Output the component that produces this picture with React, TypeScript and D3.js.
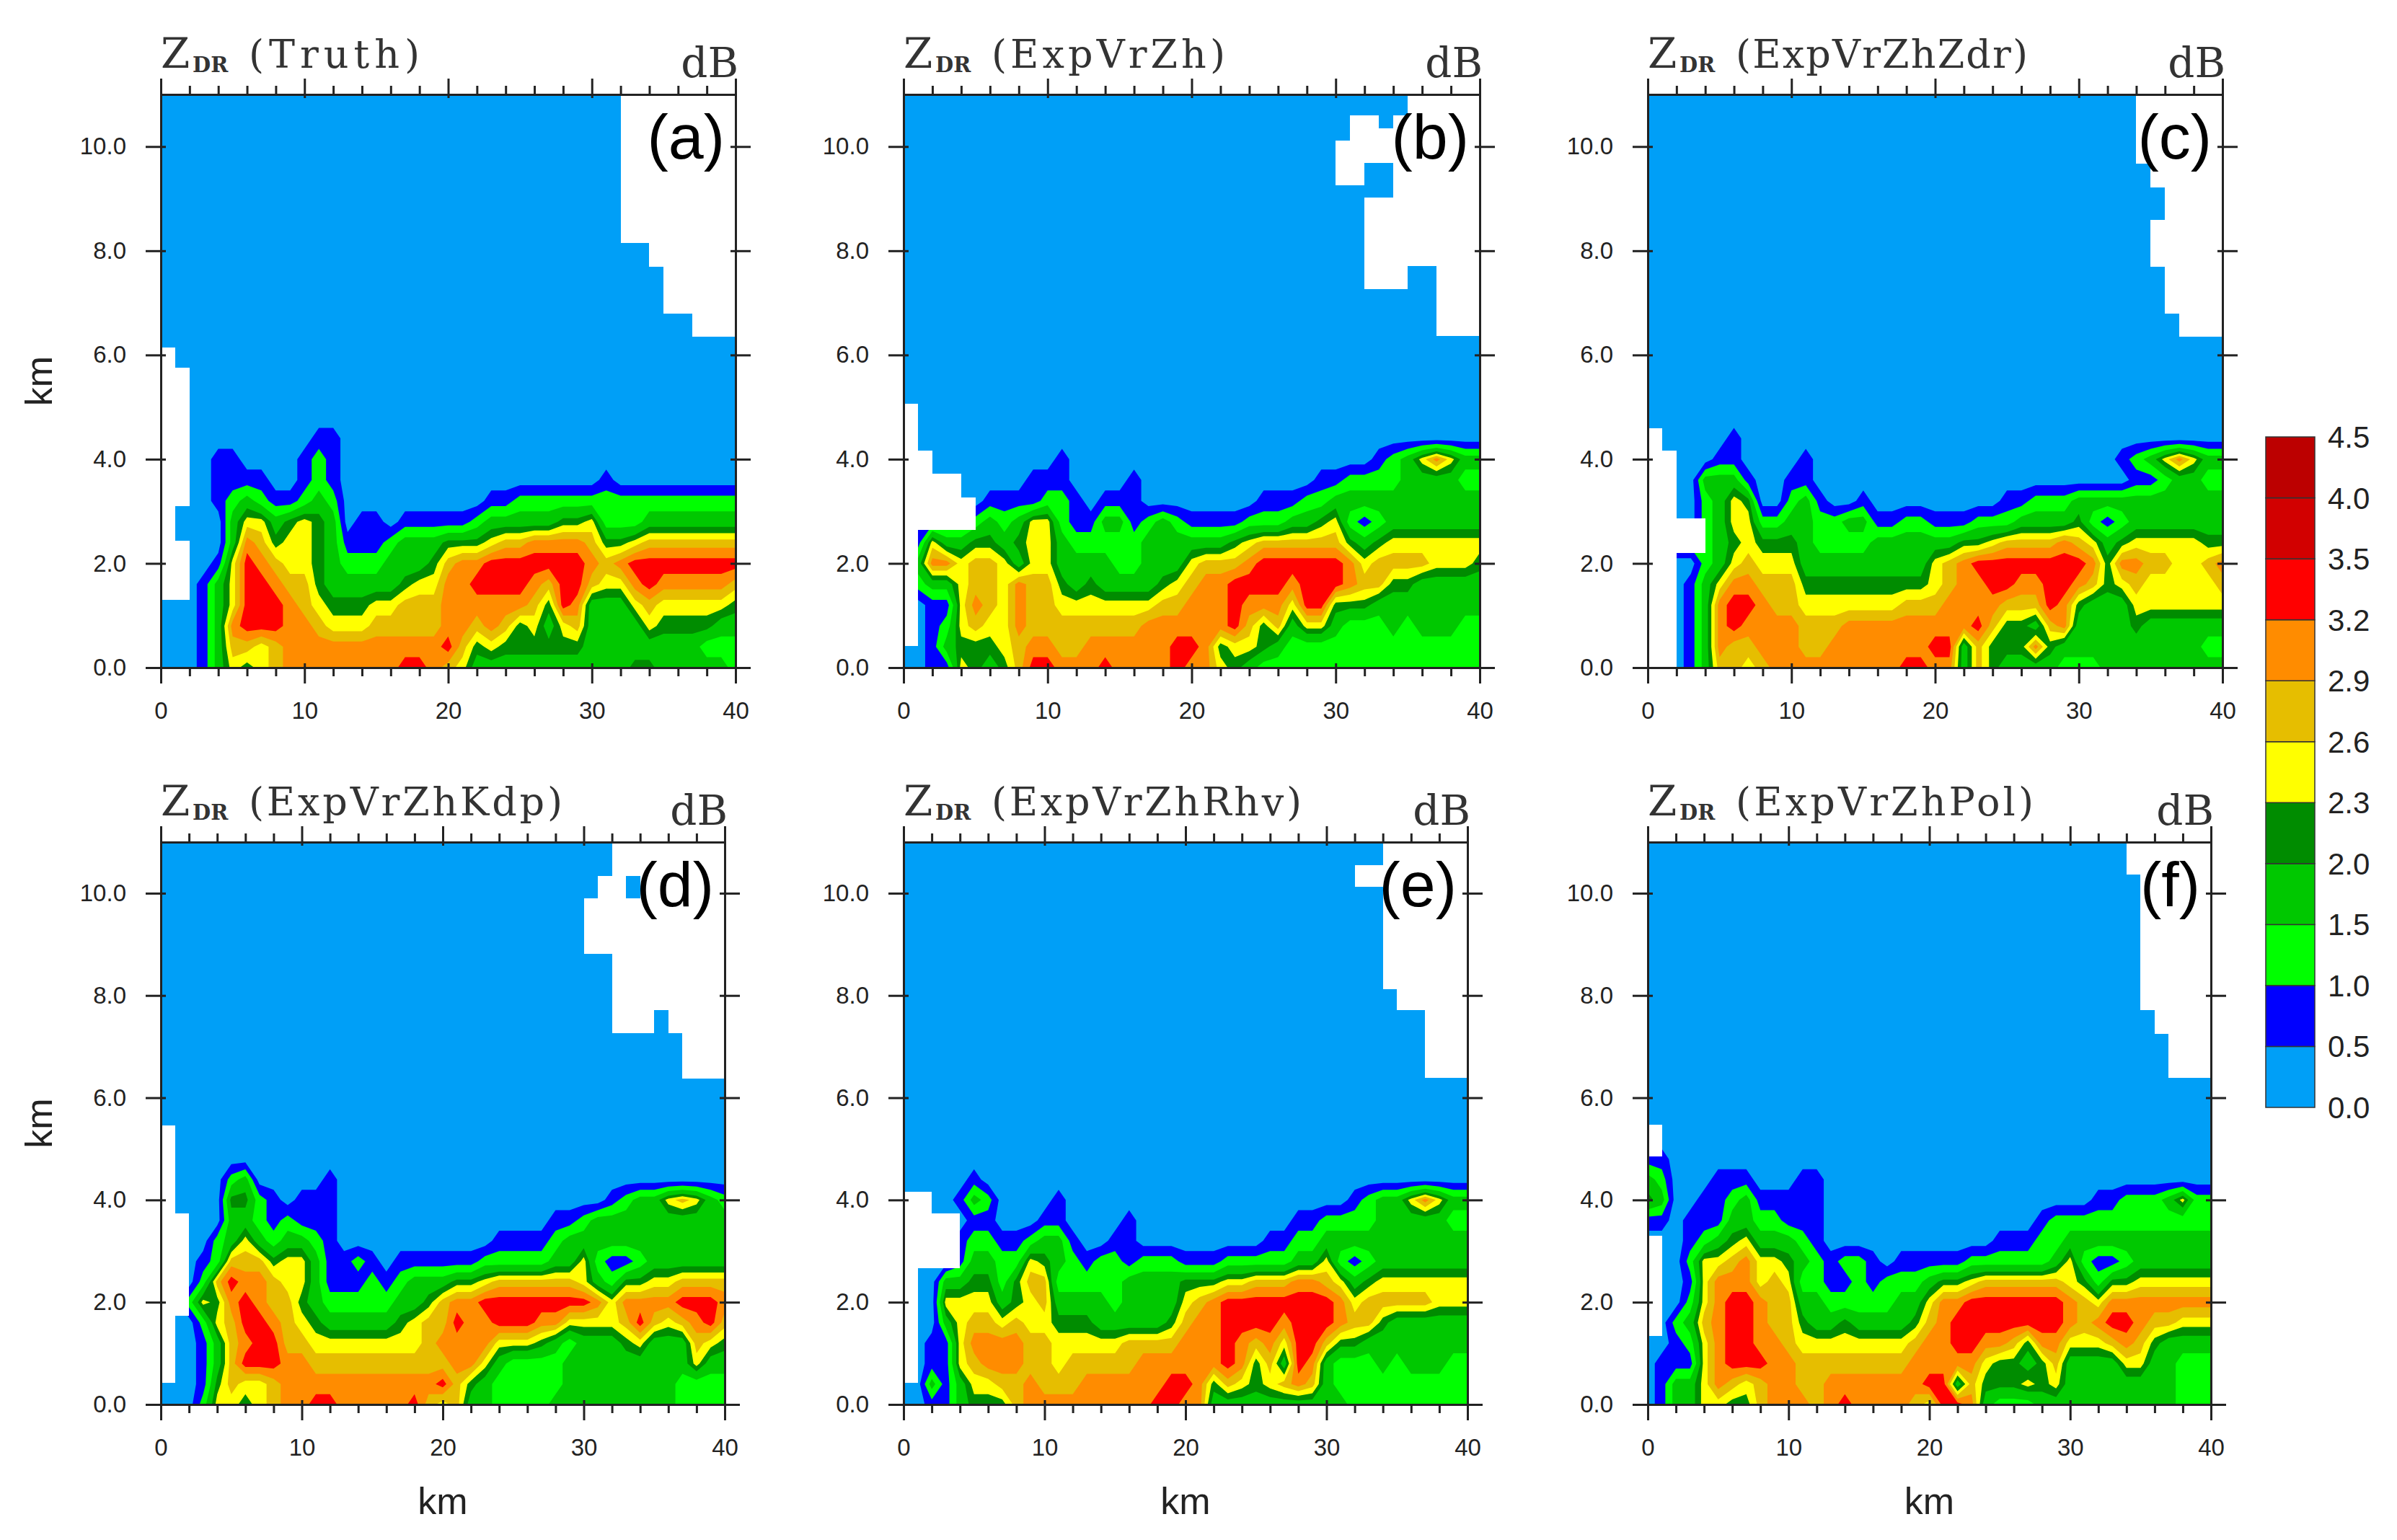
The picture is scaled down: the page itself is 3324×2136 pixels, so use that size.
import { useEffect, useRef } from "react";
import * as d3 from "d3";

// colour bands of the legend, bottom to top
const LEVELS = [0, 0.5, 1, 1.5, 2, 2.3, 2.6, 2.9, 3.2, 3.5, 4, 4.5];
const LEVEL_LABELS = ["0.0", "0.5", "1.0", "1.5", "2.0", "2.3", "2.6", "2.9", "3.2", "3.5", "4.0", "4.5"];
const COLORS = ["#009ff7", "#0000ff", "#00ff00", "#00c800", "#008c00", "#ffff00", "#e6be00", "#ff8c00", "#ff0000", "#d20000", "#bc0000"];

const X_MAJOR = [0, 10, 20, 30, 40];
const X_MINOR = [2, 4, 6, 8, 12, 14, 16, 18, 22, 24, 26, 28, 32, 34, 36, 38];
const Y_TICKS = [0, 2, 4, 6, 8, 10];

// ZDR: one string per height (0, 0.4, 0.8 ... km), one digit per km (0-40).
// A digit is the legend band the cell falls in; short rows end in band 0.
const ROWS_A = [
  "000 1 3 5 4 5 6 77777777 88 7 6 5 3 3333333333 44 33333 2",
  "000 1 3 6 6 5 6 77777777777 8 6 4 5 444444 33333333 222",
  "000 1 3 7 888 7 7 6 555 6 6666 7 7 6 7 6 4 5 3 5 6 3333 5 4 44 4 33",
  "000 1 3 5 888 7 6 5 444 55 666 777 777 6 4 8 7 333 5 6 5555 5 4",
  "000 1 3 5 88 7 6 6 4 33333 4 5 5 7 7 8888 7 6 88 6 55 7 8 77777 6",
  "0000 1 5 8 7 6 55 4 3 222 333 4 6 77 8888888 7 6 7 88888888",
  "00000 3 7 6 4 55 4 3 111 2 333 444 5 66 7777 6 44 5 6 666666",
  "00000 3 55 3 4 5 4 3 0 11 0 11111 2 33333 44 5 222 3333333",
  "0000 1 2 3 2 11 2 3 2 0000000000 11 2222222222222222",
  "0000 1111 00 1 2 1 000000000000000000 1",
  "0000 11 0000 1 2 1",
  "00000000000 11",
];
const ROWS_B = [
  "00 11 5 4 3 4 6 88 777 8 7777 8 77 5 4 3 2222222222222222",
  "00 1 3 4 4 4 5 6 7 7 6 6 7 77777 8 8 7 4 5 5 4 3 22222222222222",
  "0 0 1 2 5 6 55 7 66666666 77777 7 8 6 4 6 3 55 3 222 3 2 333 22",
  "00 11 5 7 6 5 7 66 5555555 66 777 8 777 5 88 444 33333333",
  "22 3 3 5 66 5 7 66 4 3 4 3333 4 5 6 77 8888 7 888 7 66 44 33333",
  "2 3 77 5 66 5 3 55 3333 22 333 5 666 7 888888 7 5 6666 555 4",
  "11 5 3 3 44 3 4 55 3 22222 333333 4 5 666666 4 3 4 5555555",
  "11111 2 3 2 3 55 2 11 33 1 2 3 2 1111 222 33 4 5 2 1 2 3333333",
  "000000 1111 22 1 0 111 00000000 111 22 33333333333",
  "000000000 111 0000 1 000000000000 11 2222 3333 22",
  "00000000000 1 000000000000000000000 1 2 3 5 7 5 3 3",
];
const ROWS_C = [
  "000 1 3 66 5 6 777777777 88 77 3 6 4 3333 222 333333333",
  "000 1 3 7 66 7 77 66 7 77777 7 88 3 6 444 7 4 3333333333 22",
  "000 1 3 7 8 7 777 666 777777777 8 6 44 3 6 7 3333 4 333333",
  "000 1 3 7 88 7 6 6 5555555 666 7777 666 8 7 4 333 5555555",
  "000 1 3 5 7 7 666 444444444 5 6 77 88 77 88 7 6 4 5 6 55555 6",
  "0000 2 3 5 6 555 333333333 5 6 7 88888888 7 4 77 66 55 6 7",
  "2222 2 3 4 5 444 3 2222 3 3 3333 44 5 6666 7 6 5 3 4 55555 44",
  "0000 2 3 55 2 2 33 22 33 11 22 111 222 3333 4 2 1 2 3333333",
  "0000 2 3 5 4 00 2 3 1 00 1 000000000 11 222 33333333333",
  "0000 333 1 00 11 0000000000000000000000 1 1 2 33 22",
  "00000 11 0000 1 000000000000000000000 1 2 3 5 7 5 33",
  "000000 1",
];
const ROWS_D = [
  "000 2 5 5 4 5 6 7 7 88 77777 8 6 5 6 33 2222 3 33333333 2222",
  "000 1 4 6 5 5 6 7777777777 7 8 6 4 3 2 2222 33333333 2222",
  "000 1 3 6 888 7 7 6 66666666 6 7 7 5 3 22 22 3 33333333 5 33",
  "000 1 3 6 7 88 6 6 5 555555 5 6 7 777 555 4 3 2 333 4 5 333 6 5 4",
  "000 2 5 6 88 7 6 5 4 33333 4 5 66 8 77 888 77 5555 6 8 6 5 6 7 8 6",
  "00 2 5 4 7 8 7 66 4 3 22222 33 4 6 77 88888888 7 5 7777 888 7",
  "000 2 6 8 7 7 6 55 3 111 2 1 2 333 44 5 666666 5 3 2 4 4 55 6666",
  "000 1 2 6 6 6 4 55 3 1 1 2 1 0 111111 22222 33 5 2 11 2 333333",
  "0000 2 3 5 3 2 33 2 1 00000000000 1111 2 333333333333",
  "00000 3 3 2 1 2 111 000000000000000 11 2 3333333333",
  "00000 4 4 2 1 0 111 0000000000000000000 1 2 3 3 5 6 5 3 2",
  "00000 2 3 00000 1",
];
const ROWS_E = [
  "00 11 3 444 6 777777777 88 77 3 33333333 3 222222222",
  "00 3 1 3 55 66 7 666 777777 88 7 4 6 5 4 5 6 7 6 3 2222222222",
  "00 11 5 6 777 66 5 6 6666 777777 8 7 4 6 3 8 7 3 222 3 2 333 22",
  "00 1 1 5 7777 66 55555 6666 777 8 7 6 7 5 88 6 44 33333333",
  "000 3 5 66 5 6 55 444 3333 3 4 6 77 8888 7 888 7 66 4 333333",
  "000 5555 3 4 5 6 3333 2 3333 5 6 7 88888888 7 5 6666 6 5 55 4",
  "000 3 3 44 2 4 66 2 222 2 3 333 444 5 5 666 77 6 5 3 4 5555555",
  "0000 1 3 3 2 2 5 4 3 2 1 2 2 1 2 2 2 111 2222 2 33 5 2 1 2 3333333",
  "0000 1 2 2 1 1 2 3 3 1 00 1 1 000000000 11 22 33333333333",
  "00000 11 000 11 0000 1 00000000000 11 2222 33333 22",
  "0000 1 3 2 0000 1 00000000000000000000 1 2 33 5 7 5 33",
  "00000 1",
];
const ROWS_F = [
  "0 1 33 55 44 6 777 6 7 8 777 7 6 5 8 8 7 3 222 3 333333333 222",
  "0 1 33 5 7 6 5 6 77 66 7 777777 88 3 6 4 44 5 4 5 3 3333333 222",
  "0 111 5 7 888 77 6 6666666 7 777 7 5 44 3 4 6 3 333 55 33 222",
  "00 1 2 5 7 88 77 6 5 555555 5 6 77 88 77 6 4 77 555 6 7 6 4 3333",
  "00 2 3 6 7 88 7 66 4 33 4 333 3 4 6 7 88888888 7 6 7 88 7 66 555",
  "000 2 5 7 88 7 66 3 3 2222 2 3 3 5 7 7 8888888 7 6 5 7 7777777",
  "000 1 5 77 7 5 6 5 22 11 2 1 2 22 3 4 4 5 666666 5 4 2 4 4 5 55555",
  "000 2 5 5 6 7 5 5 4 3 2 1 22 1 0 11111 222222 3 5 2 11 2 333333",
  "000 1 2 3 4 5 333 2 1 000000000000 111 22 33333333333",
  "11 0 111 3 3 22 111 000000000000000 1 222222222222",
  "4 3 00 11 2 3 1 1 111 0000000000000000000 11 222 3 5 22",
  "3 2 000 111 000 11",
  "11",
];

// cells with no data, [x0, x1, y0, y1] in km
const MISSING_A = [[32, 34, 8.15, 11], [34, 35, 7.7, 11], [35, 37, 6.8, 11], [37, 40, 6.35, 11], [0, 1, 1.3, 6.15], [1, 2, 3.1, 5.75], [1, 2, 1.3, 2.43]];
const MISSING_B = [[35, 37, 7.71, 11], [37, 40, 6.37, 11], [34, 35, 7.27, 10.6], [32, 34, 7.27, 9.02], [31, 33, 10.12, 10.6], [33, 34, 10.12, 10.35], [30, 32, 9.25, 10.12], [32, 34, 9.69, 10.12], [0, 1, 0.41, 5.06], [1, 2, 2.64, 4.16], [2, 4, 2.64, 3.72], [4, 5, 2.64, 3.26]];
const MISSING_C = [[34, 40, 9.67, 11], [35, 40, 9.22, 9.67], [36, 40, 8.59, 9.22], [35, 40, 7.7, 8.59], [36, 40, 6.8, 7.7], [37, 40, 6.35, 6.8], [0, 1, 4.16, 4.6], [0, 2, 0, 4.16], [2, 4, 2.2, 2.87]];
const MISSING_D = [[32, 33, 7.26, 11], [33, 34, 10.34, 11], [33, 34, 7.26, 9.9], [34, 35, 7.26, 11], [35, 36, 7.72, 11], [36, 37, 7.26, 11], [37, 40, 6.38, 11], [31, 32, 8.81, 10.34], [30, 31, 8.81, 9.9], [0, 1, 0.42, 5.46], [1, 2, 1.74, 3.74]];
const MISSING_E = [[34, 40, 8.12, 11], [35, 40, 7.71, 8.12], [37, 40, 6.39, 7.71], [32, 34, 10.13, 10.55], [0, 2, 3.74, 4.16], [0, 4, 2.66, 3.74], [0, 1, 0.42, 2.66]];
const MISSING_F = [[34, 40, 10.36, 11], [35, 40, 7.71, 10.36], [36, 40, 7.25, 7.71], [37, 40, 6.39, 7.25], [0, 1, 4.85, 5.47], [0, 1, 1.34, 3.3]];

const NX = 41;
const NY = 15;
const DX = 1;
const DY = 0.4;

function bandValue(code: number) {
  return (LEVELS[code] + LEVELS[code + 1]) / 2;
}

function toGrid(rows: string[]) {
  const values = new Array(NX * NY).fill(bandValue(0));
  rows.forEach((row, r) => {
    const cells = row.replace(/ /g, "").padEnd(NX, "0");
    for (let i = 0; i < NX; i++) values[r * NX + i] = bandValue(+cells[i]);
  });
  return values;
}

type PanelProps = {
  id: string;
  name: string;
  nameWidth: number;
  letter: string;
  rows: string[];
  missing: number[][];
  left: number;
  right: number;
  top: number;
  bottom: number;
  showXLabel: boolean;
  showYLabel: boolean;
};

function Panel({ id, name, nameWidth, letter, rows, missing, left, right, top, bottom, showXLabel, showYLabel }: PanelProps) {
  const axesRef = useRef<SVGGElement>(null);

  const x = d3.scaleLinear().domain([0, 40]).range([left, right]);
  const y = d3.scaleLinear().domain([0, 11]).range([bottom, top]);

  const contours = d3
    .contours()
    .size([NX, NY])
    .thresholds(LEVELS.slice(1, 10))(toGrid(rows));

  const path = d3.geoPath(
    d3.geoTransform({
      point(px: number, py: number) {
        (this as any).stream.point(x((px - 0.5) * DX), y((py - 0.5) * DY));
      },
    })
  );

  useEffect(() => {
    const g = d3.select(axesRef.current);
    g.selectAll("*").remove();

    const addAxis = (axis: any, tx: number, ty: number, inward: string, sign: number, len: number) => {
      const a = g.append("g").attr("transform", `translate(${tx},${ty})`).call(axis);
      a.select(".domain").attr("stroke", "#222").attr("stroke-width", 3);
      a.selectAll(".tick line").attr("stroke", "#222").attr("stroke-width", 3).attr(inward, sign * len);
      return a;
    };

    const format = d3.format(".1f");
    const bottomMajor = d3.axisBottom(x).tickValues(X_MAJOR).tickSize(22).tickSizeOuter(0).tickPadding(26).tickFormat(d3.format("d") as any);
    const b = addAxis(bottomMajor, 0, bottom, "y1", -1, 6);
    b.selectAll("text").attr("font-family", "Liberation Sans").attr("font-size", 33).attr("fill", "#222");
    addAxis(d3.axisBottom(x).tickValues(X_MINOR).tickSize(12).tickSizeOuter(0).tickFormat(() => ""), 0, bottom, "y1", 0, 0);

    addAxis(d3.axisTop(x).tickValues(X_MAJOR).tickSize(22).tickSizeOuter(0).tickFormat(() => ""), 0, top, "y1", 1, 5);
    addAxis(d3.axisTop(x).tickValues(X_MINOR).tickSize(12).tickSizeOuter(0).tickFormat(() => ""), 0, top, "y1", 0, 0);

    const l = addAxis(d3.axisLeft(y).tickValues(Y_TICKS).tickSize(21).tickSizeOuter(0).tickPadding(27).tickFormat(format as any), left, 0, "x1", 1, 7);
    l.selectAll("text").attr("font-family", "Liberation Sans").attr("font-size", 33).attr("fill", "#222");
    addAxis(d3.axisRight(y).tickValues(Y_TICKS).tickSize(21).tickSizeOuter(0).tickFormat(() => ""), right, 0, "x1", -1, 7);
  }, []);

  const cx = (left + right) / 2;
  const cy = (top + bottom) / 2;

  return (
    <g>
      <clipPath id={`clip-${id}`}>
        <rect x={left} y={top} width={right - left} height={bottom - top} />
      </clipPath>
      <g clipPath={`url(#clip-${id})`}>
        <rect x={left} y={top} width={right - left} height={bottom - top} fill={COLORS[0]} />
        {contours.map((c: any, i: number) => (
          <path key={i} d={path(c) || ""} fill={COLORS[i + 1]} />
        ))}
        {missing.map((m, i) => (
          <rect key={i} x={x(m[0])} y={y(m[3])} width={x(m[1]) - x(m[0])} height={y(m[2]) - y(m[3])} fill="#fff" shapeRendering="crispEdges" />
        ))}
      </g>
      <g ref={axesRef} />
      <text x={left} y={top - 37} fontFamily="DejaVu Serif" fontSize={58} fill="#333">
        Z
        <tspan x={left + 44} dy={6} fontSize={29} fontWeight="bold">
          DR
        </tspan>
        <tspan x={left + 122} dy={-6} fontSize={54} textLength={nameWidth}>
          {`(${name})`}
        </tspan>
      </text>
      <text x={right + 4} y={top - 24} textAnchor="end" fontFamily="DejaVu Serif" fontSize={58} fill="#333">
        dB
      </text>
      <text x={right - 15} y={top + 89} textAnchor="end" fontFamily="Liberation Sans" fontSize={88} fill="#000">
        {`(${letter})`}
      </text>
      {showYLabel && (
        <text transform={`translate(72,${cy}) rotate(-90)`} textAnchor="middle" fontFamily="Liberation Sans" fontSize={52} fill="#222">
          km
        </text>
      )}
      {showXLabel && (
        <text x={cx} y={bottom + 152} textAnchor="middle" fontFamily="Liberation Sans" fontSize={52} fill="#222">
          km
        </text>
      )}
    </g>
  );
}

function Legend() {
  const y = d3.scalePoint().domain(LEVEL_LABELS).range([1536, 606]);
  return (
    <g>
      {COLORS.map((c, i) => (
        <rect
          key={c}
          x={3142}
          y={y(LEVEL_LABELS[i + 1])!}
          width={68}
          height={y(LEVEL_LABELS[i])! - y(LEVEL_LABELS[i + 1])!}
          fill={c}
          stroke="#333"
          strokeWidth={1.5}
        />
      ))}
      {LEVEL_LABELS.map((t) => (
        <text key={t} x={3228} y={y(t)! + 15} fontFamily="Liberation Sans" fontSize={42} fill="#222">
          {t}
        </text>
      ))}
    </g>
  );
}

export default function App() {
  return (
    <svg width={3324} height={2136} style={{ position: "absolute", left: 0, top: 0, background: "#fff" }}>
      <Panel id="a" name="Truth" nameWidth={237} letter="a" rows={ROWS_A} missing={MISSING_A} left={223} right={1020} top={131} bottom={926} showXLabel={false} showYLabel />
      <Panel id="b" name="ExpVrZh" nameWidth={324} letter="b" rows={ROWS_B} missing={MISSING_B} left={1253} right={2052} top={131} bottom={926} showXLabel={false} showYLabel={false} />
      <Panel id="c" name="ExpVrZhZdr" nameWidth={405} letter="c" rows={ROWS_C} missing={MISSING_C} left={2285} right={3082} top={131} bottom={926} showXLabel={false} showYLabel={false} />
      <Panel id="d" name="ExpVrZhKdp" nameWidth={435} letter="d" rows={ROWS_D} missing={MISSING_D} left={223} right={1005} top={1168} bottom={1948} showXLabel showYLabel />
      <Panel id="e" name="ExpVrZhRhv" nameWidth={430} letter="e" rows={ROWS_E} missing={MISSING_E} left={1253} right={2035} top={1168} bottom={1948} showXLabel showYLabel={false} />
      <Panel id="f" name="ExpVrZhPol" nameWidth={413} letter="f" rows={ROWS_F} missing={MISSING_F} left={2285} right={3066} top={1168} bottom={1948} showXLabel showYLabel={false} />
      <Legend />
    </svg>
  );
}
